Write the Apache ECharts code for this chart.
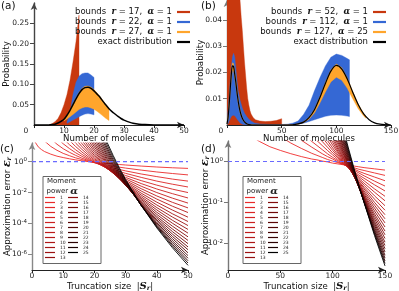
<!DOCTYPE html>
<html><head><meta charset="utf-8">
<script src="https://cdn.jsdelivr.net/npm/echarts@6/dist/echarts.min.js"></script>
<style>html,body{margin:0;padding:0;background:#fff}#c{width:399px;height:291px}</style>
</head><body><div id="c"></div>
<script>
// ---------- panel (a): truncated bounds on the distribution ----------
const aExactX = [0,2,4,5,6,7,8,9,10,11,12,13,14,15,16,17,18,19,20,21,22,23,24,25,26,27,28,29,30,31,32,33,34,35,37,40,45,50];
const aExactP = [0,0,0.0001,0.0003,0.001,0.002,0.005,0.009,0.014,0.024,0.036,0.05,0.064,0.077,0.087,0.092,0.093,0.09,0.084,0.076,0.068,0.058,0.049,0.04,0.033,0.027,0.021,0.016,0.012,0.009,0.0065,0.0045,0.003,0.002,0.001,0.0003,0,0];
const aRedX  = [5,6,7,8,9,10,11,12,13,14,15];
const aRedHi = [0,0.003,0.008,0.016,0.03,0.05,0.075,0.11,0.155,0.205,0.27];
const aBlueX  = [11,12,13,14,15,16,17,18,19,20];
const aBlueLo = [0.004,0.008,0.012,0.016,0.02,0.024,0.027,0.028,0.027,0.025];
const aBlueHi = [0.008,0.03,0.075,0.105,0.12,0.126,0.128,0.128,0.123,0.117];
const aOrangeX  = [10,11,12,13,14,15,16,17,18,19,20,21,22,23,24,25];
const aOrangeLo = [0.01,0.015,0.02,0.026,0.032,0.038,0.042,0.044,0.044,0.042,0.039,0.034,0.028,0.022,0.016,0.011];
const aOrangeHi = [0.014,0.024,0.038,0.053,0.067,0.08,0.09,0.095,0.096,0.093,0.087,0.079,0.07,0.06,0.05,0.042];
const aLegendLabels = ['bounds  {m|r} = 17,  {m|α} = 1','bounds  {m|r} = 22,  {m|α} = 1','bounds  {m|r} = 27,  {m|α} = 1','exact distribution'];

// ---------- panel (b) ----------
const bExactX = [0,1,2,3,4,5,6,7,8,9,10,11,12,13,14,15,16,18,20,25,30,40,50,60,65,70,75,80,85,90,95,100,105,110,115,120,125,130,135,140,145,150];
const bExactP = [0.0003,0.003,0.008,0.014,0.0195,0.0225,0.0222,0.0195,0.0165,0.013,0.0098,0.0072,0.0052,0.0037,0.0026,0.0018,0.0012,0.0005,0.0002,0,0,0,0,0.0001,0.0004,0.0011,0.0028,0.0058,0.0105,0.0158,0.0205,0.0227,0.0213,0.0175,0.0125,0.0078,0.0042,0.002,0.0008,0.0003,0.0001,0];
const bRedX  = [0,5,10,11,12,13,14,15,16,17,18,19,20,21,22,24,26,30,35,40,45,50];
const bRedHi = [0.09,0.09,0.06,0.053,0.047,0.041,0.036,0.03,0.024,0.019,0.014,0.01,0.0075,0.0055,0.0042,0.0028,0.002,0.0015,0.0013,0.0014,0.0017,0.0024];
const bBlueX  = [0,1,2,3,4,5,6,7,8,9,10,12,14,16,18,20,22,25,30,40,50,55,60,65,70,75,80,85,90,95,100,105,110,112];
const bBlueLo = [0,0.0005,0.0015,0.0025,0.0032,0.0036,0.0037,0.0035,0.003,0.0024,0.0018,0.0008,0.0003,0.0001,0,0,0,0,0,0,0,0,0.0001,0.0003,0.0007,0.0013,0.002,0.0027,0.0033,0.0037,0.0038,0.0037,0.0034,0.0032];
const bBlueHi = [0.001,0.006,0.011,0.017,0.022,0.026,0.0273,0.026,0.022,0.0175,0.0135,0.0093,0.0065,0.0045,0.0032,0.0022,0.0015,0.0008,0.0004,0.0002,0.0002,0.0003,0.0007,0.0015,0.004,0.0075,0.013,0.018,0.0225,0.0258,0.027,0.0265,0.0253,0.0248];
const bOrangeX  = [0,1,2,3,4,5,6,7,8,9,10,11,12,13,14,15,16,18,20,25,30,40,50,60,65,70,75,80,85,90,95,100,105,110,115,120,125,127];
const bOrangeLo = [0.0001,0.002,0.0066,0.0125,0.0178,0.0208,0.0206,0.0181,0.0152,0.0119,0.0088,0.0064,0.0046,0.0032,0.0022,0.0015,0.001,0.0004,0.0001,0,0,0,0,0.0001,0.0003,0.0009,0.0022,0.0046,0.0084,0.0126,0.0164,0.0182,0.017,0.014,0.01,0.0062,0.0034,0.0026];
const bOrangeHi = [0.0008,0.0042,0.0092,0.0152,0.0207,0.0237,0.0234,0.0207,0.0177,0.0141,0.0108,0.008,0.0059,0.0043,0.003,0.0021,0.0014,0.0006,0.0002,0,0,0,0,0.0001,0.0004,0.0012,0.0029,0.006,0.0108,0.0162,0.021,0.0232,0.0218,0.0179,0.0128,0.008,0.0044,0.0034];
const bLegendLabels = ['bounds  {m|r} = 52,  {m|α} = 1','bounds  {m|r} = 112,  {m|α} = 1','bounds  {m|r} = 127,  {m|α} = 25','exact distribution'];

// ---------- panels (c), (d): log10 of approximation error per moment power ----------
const alphas = [1,2,3,4,5,6,7,8,9,10,11,12,13,14,15,16,17,18,19,20,21,22,23,24,25];
const cSizes = [1,2,3,4,6,8,10,12,14,16,18,20,22,24,26,28,30,35,40,45,50];
// each list holds the last values of the truncation-size list (curve enters from the top)
const cLogErr = [
 [1.26,0.95,0.78,0.65,0.48,0.35,0.26,0.18,0.11,0.05,0.00,-0.05,-0.09,-0.12,-0.16,-0.19,-0.22,-0.29,-0.35,-0.40,-0.44],
 [1.33,0.98,0.73,0.53,0.38,0.24,0.13,0.02,-0.07,-0.15,-0.23,-0.30,-0.36,-0.42,-0.55,-0.67,-0.77,-0.86],
 [1.50,1.12,0.83,0.60,0.40,0.22,0.07,-0.07,-0.19,-0.31,-0.41,-0.51,-0.60,-0.80,-0.97,-1.13,-1.26],
 [1.54,1.15,0.84,0.57,0.34,0.13,-0.05,-0.22,-0.37,-0.51,-0.64,-0.76,-1.02,-1.26,-1.46,-1.64],
 [1.49,1.09,0.76,0.47,0.21,-0.02,-0.22,-0.41,-0.58,-0.75,-0.90,-1.23,-1.52,-1.78,-2.00],
 [1.37,0.97,0.62,0.31,0.04,-0.21,-0.44,-0.64,-0.84,-1.02,-1.42,-1.77,-2.07,-2.35],
 [1.66,1.19,0.79,0.43,0.11,-0.18,-0.44,-0.69,-0.91,-1.12,-1.59,-2.00,-2.36,-2.68],
 [1.43,0.97,0.56,0.19,-0.14,-0.44,-0.72,-0.98,-1.22,-1.75,-2.22,-2.63,-2.99],
 [1.68,1.16,0.70,0.29,-0.09,-0.43,-0.74,-1.03,-1.30,-1.90,-2.42,-2.88,-3.29],
 [1.36,0.85,0.39,-0.02,-0.40,-0.75,-1.07,-1.37,-2.04,-2.62,-3.13,-3.59],
 [1.57,1.01,0.51,0.05,-0.36,-0.74,-1.10,-1.43,-2.16,-2.80,-3.37,-3.87],
 [1.81,1.19,0.65,0.15,-0.30,-0.72,-1.11,-1.47,-2.27,-2.97,-3.58,-4.13],
 [1.39,0.79,0.25,-0.24,-0.69,-1.11,-1.50,-2.37,-3.12,-3.79,-4.38],
 [1.59,0.95,0.37,-0.16,-0.65,-1.10,-1.52,-2.45,-3.27,-3.98,-4.62],
 [1.80,1.11,0.49,-0.08,-0.60,-1.08,-1.53,-2.54,-3.41,-4.17,-4.86],
 [1.28,0.62,0.01,-0.54,-1.06,-1.54,-2.61,-3.54,-4.35,-5.09],
 [1.47,0.77,0.12,-0.47,-1.02,-1.53,-2.66,-3.65,-4.52,-5.30],
 [1.66,0.91,0.23,-0.39,-0.97,-1.51,-2.72,-3.76,-4.68,-5.51],
 [1.87,1.08,0.36,-0.30,-0.91,-1.48,-2.75,-3.85,-4.83,-5.69],
 [1.24,0.49,-0.21,-0.85,-1.45,-2.79,-3.95,-4.97,-5.89],
 [1.42,0.63,-0.11,-0.78,-1.41,-2.82,-4.03,-5.11,-6.07],
 [1.61,0.78,0.01,-0.70,-1.36,-2.83,-4.11,-5.23,-6.24],
 [1.80,0.93,0.13,-0.61,-1.30,-2.84,-4.17,-5.35,-6.40],
 [2.01,1.10,0.27,-0.51,-1.23,-2.83,-4.22,-5.45,-6.55],
 [1.27,0.40,-0.41,-1.16,-2.83,-4.28,-5.56,-6.70]
];
const dSizes = [25,30,40,50,60,70,80,85,90,95,100,105,110,115,120,125,130,140,150];
const dLogErr = [
 [0.57,0.49,0.36,0.27,0.19,0.12,0.06,0.04,0.01,-0.01,-0.04,-0.06,-0.08,-0.10,-0.11,-0.13,-0.15,-0.18,-0.21],
 [0.61,0.45,0.32,0.20,0.15,0.10,0.05,0.01,-0.03,-0.07,-0.11,-0.15,-0.19,-0.22,-0.28,-0.34],
 [0.52,0.35,0.27,0.19,0.12,0.06,-0.01,-0.07,-0.13,-0.18,-0.24,-0.29,-0.38,-0.47],
 [0.72,0.49,0.39,0.29,0.19,0.10,0.02,-0.06,-0.14,-0.21,-0.28,-0.35,-0.48,-0.60],
 [0.51,0.39,0.27,0.16,0.05,-0.05,-0.15,-0.24,-0.33,-0.41,-0.57,-0.72],
 [0.64,0.49,0.35,0.21,0.09,-0.04,-0.15,-0.26,-0.37,-0.47,-0.67,-0.85],
 [0.59,0.43,0.27,0.12,-0.02,-0.15,-0.28,-0.41,-0.53,-0.75,-0.96],
 [0.51,0.33,0.16,0.00,-0.15,-0.30,-0.44,-0.58,-0.84,-1.08],
 [0.60,0.40,0.21,0.02,-0.15,-0.32,-0.48,-0.63,-0.92,-1.19],
 [0.69,0.47,0.25,0.05,-0.14,-0.33,-0.50,-0.67,-1.00,-1.30],
 [0.54,0.30,0.08,-0.13,-0.34,-0.53,-0.72,-1.07,-1.40],
 [0.61,0.35,0.11,-0.12,-0.34,-0.55,-0.76,-1.14,-1.50],
 [0.69,0.41,0.15,-0.10,-0.34,-0.57,-0.80,-1.21,-1.60],
 [0.77,0.47,0.19,-0.08,-0.34,-0.59,-0.83,-1.28,-1.70],
 [0.53,0.23,-0.06,-0.34,-0.61,-0.86,-1.34,-1.79],
 [0.60,0.27,-0.04,-0.33,-0.62,-0.89,-1.40,-1.88],
 [0.67,0.32,-0.01,-0.32,-0.62,-0.91,-1.46,-1.97],
 [0.74,0.37,0.02,-0.31,-0.63,-0.93,-1.51,-2.05],
 [0.81,0.43,0.06,-0.29,-0.63,-0.95,-1.56,-2.13],
 [0.89,0.48,0.10,-0.27,-0.63,-0.97,-1.61,-2.21],
 [0.54,0.14,-0.25,-0.62,-0.98,-1.66,-2.29],
 [0.61,0.18,-0.23,-0.62,-0.99,-1.70,-2.36],
 [0.67,0.23,-0.20,-0.61,-1.00,-1.74,-2.43],
 [0.74,0.28,-0.17,-0.59,-1.00,-1.77,-2.49],
 [0.81,0.33,-0.13,-0.58,-1.00,-1.81,-2.55]
];
const cTicks = [0,-2,-4,-6];
const dTicks = [0,-1,-2];
const refLevel = 0; // 10^0 reference level (dashed)

// ---------- build ----------
const F = 'DejaVu Sans';
const RED = '#c8380e', BLUE = '#3568d4', ORANGE = '#ffa52c', DASH = '#6a6aff';
const MATH = {fontFamily:'DejaVu Serif', fontStyle:'italic', fontWeight:'bold'};
const RICH = {
  s: Object.assign({fontSize:10, lineHeight:11}, MATH),
  r: Object.assign({fontSize:6.5, lineHeight:7, verticalAlign:'bottom'}, MATH),
  e: Object.assign({fontSize:11, lineHeight:11}, MATH)
};
function xy(xs, ys){ return xs.map((x,i)=>[x, ys[i]]); }
function alignEnd(sizes, vals){ const off = sizes.length - vals.length; return vals.map((v,j)=>[sizes[off+j], v]); }
function curveColor(k){ const t=(k-1)/24; const r=Math.round(240*Math.pow(1-t,0.7)); const g=Math.round(45*Math.pow(1-t,1.5)); return 'rgb('+r+','+g+','+g+')'; }

function band(name, g, xs, lo, hi, color){
  return {type:'custom', name, xAxisIndex:g, yAxisIndex:g, clip:true, silent:true,
    itemStyle:{color}, data:[[xs[0],0]],
    renderItem(params, api){
      const pts=[];
      for(let i=0;i<xs.length;i++) pts.push(api.coord([xs[i], hi[i]]));
      for(let i=xs.length-1;i>=0;i--) pts.push(api.coord([xs[i], lo ? lo[i] : 0]));
      return {type:'polygon', shape:{points:pts}, style:{fill:color, stroke:color, lineWidth:0.4}};
    }};
}
function exactLine(name, g, xs, ys, w){
  return {type:'line', name, xAxisIndex:g, yAxisIndex:g, data:xy(xs,ys), showSymbol:false, symbol:'none',
    smooth:0.3, lineStyle:{color:'#000', width:w}, itemStyle:{color:'#000'}, silent:true};
}
// dashed reference line at 10^0 spanning the x-axis range
function refSeries(g, xMax){
  return {type:'line', name:'ref'+g, xAxisIndex:g, yAxisIndex:g, silent:true, z:10,
    data:[[0, refLevel],[xMax, refLevel]], showSymbol:false, symbol:'none', color:DASH,
    itemStyle:{color:DASH}, lineStyle:{color:DASH, width:1.2, type:[4,3]}};
}
function curves(prefix, g, sizes, all){
  return all.map((vals,i)=>{
    const col = curveColor(alphas[i]);
    return {type:'line', name:prefix+alphas[i], xAxisIndex:g, yAxisIndex:g, data:alignEnd(sizes, vals),
      showSymbol:false, symbol:'none', clip:true, silent:true,
      lineStyle:{color:col, width:0.9}, itemStyle:{color:col}};
  });
}
function xAx(g, max, interval, name, nameGap, zeroShift){
  return {gridIndex:g, type:'value', min:0, max, interval,
    axisLine:{show:true, onZero:false, lineStyle:{color:'#222', width:1.2}, symbol:['none','arrow'], symbolSize:[5,7]},
    axisTick:{show:true, length:3, lineStyle:{color:'#222'}},
    axisLabel:{fontSize:7.5, color:'#222', fontFamily:F, margin:2.5,
      formatter: v => (v===0 && zeroShift) ? '{z|0}' : String(v),
      rich:{z:{padding:[0,zeroShift||0,0,0], fontSize:7.5, fontFamily:F, color:'#222'}}},
    splitLine:{show:false},
    name, nameLocation:'middle', nameGap, nameMoveOverlap:false,
    nameTextStyle:{fontSize:8.6, fontFamily:F, color:'#111', lineHeight:11, rich:RICH}};
}
function yAx(g, min, max, vals, fmt, name, nameGap, color){
  return {gridIndex:g, type:'value', min, max,
    axisLine:{show:true, onZero:false, lineStyle:{color, width:1.4}, symbol:['none','arrow'], symbolSize:[5,7]},
    axisTick:{show:true, length:4, customValues:vals, lineStyle:{color}},
    axisLabel:{customValues:vals, formatter:fmt, fontSize:7.5, color:'#222', fontFamily:F, margin:5, lineHeight:10,
      rich:{sup:{fontSize:5.5, lineHeight:6, verticalAlign:'top', fontFamily:F, color:'#222'}}},
    splitLine:{show:false},
    name, nameLocation:'middle', nameGap, nameMoveOverlap:false,
    nameTextStyle:{fontSize:8.6, fontFamily:F, color:'#111', lineHeight:11, rich:RICH}};
}
const powFmt = v => '10{sup|' + v + '}';

function topLegend(names, labels, right){
  const map = {}; names.forEach((n,i)=>map[n]=labels[i]);
  return {data:names, orient:'vertical', align:'right', right, top:7, padding:0, itemWidth:13, itemHeight:2.2, itemGap:0,
    icon:'rect', selectedMode:false, formatter:n=>map[n],
    textStyle:{fontFamily:F, fontSize:8.5, lineHeight:10, color:'#111',
      rich:{m:Object.assign({fontSize:8.5, lineHeight:10, color:'#111'}, MATH)}}};
}
function alphaLegend(prefix, left){
  return {data:alphas.map(k=>prefix+k), orient:'vertical', left, top:195, height:66, padding:0,
    itemWidth:10, itemHeight:1.2, itemGap:0, icon:'rect', selectedMode:false, z:10,
    formatter:n=>n.slice(1), textStyle:{fontFamily:F, fontSize:4.5, lineHeight:5, width:8, color:'#222'}};
}
function boxTitle(x){
  return [
    {type:'rect', z:6, shape:{x:x, y:176.5, width:58, height:87}, style:{fill:'#fff', stroke:'#666', lineWidth:1}},
    {type:'text', z:7, x:x+4, y:178, style:{text:'Moment', fontSize:7, fontFamily:F, fill:'#222'}},
    {type:'text', z:7, x:x+3.5, y:186, style:{text:'power {a|α}', fontSize:7, fontFamily:F, fill:'#222',
      rich:{a:Object.assign({fontSize:10, fill:'#222'}, MATH)}}}
  ];
}

const option = {
  animation:false,
  backgroundColor:'#fff',
  grid:[
    {left:34, right:215, top:3, bottom:166, containLabel:false, outerBoundsMode:'none'},
    {left:227, right:8, top:0, bottom:166, containLabel:false, outerBoundsMode:'none'},
    {left:32, right:211, top:143, bottom:21, containLabel:false, outerBoundsMode:'none'},
    {left:228, right:14, top:141, bottom:21, containLabel:false, outerBoundsMode:'none'}
  ],
  xAxis:[
    xAx(0, 50, 10, 'Number of molecules', 8, 16),
    xAx(1, 150, 50, 'Number of molecules', 8, 12),
    xAx(2, 50, 10, 'Truncation size  |{s|S}{r|r}|', 11, 0),
    xAx(3, 150, 50, 'Truncation size  |{s|S}{r|r}|', 11, 0)
  ],
  yAxis:[
    yAx(0, 0, 0.3, [0.05,0.1,0.15,0.2,0.25], v=>v.toFixed(2), 'Probability', 22, '#444'),
    yAx(1, 0, 0.0476, [0.01,0.02,0.03,0.04], v=>v.toFixed(2), 'Probability', 21, '#777'),
    yAx(2, -7, 1.2, cTicks, powFmt, 'Approximation error {e|ε}{r|r}', 19, '#888'),
    yAx(3, -2.65, 0.5, dTicks, powFmt, 'Approximation error {e|ε}{r|r}', 17, '#777')
  ],
  legend:[
    topLegend(['aRed','aBlue','aOrange','aExact'], aLegendLabels, 209),
    topLegend(['bRed','bBlue','bOrange','bExact'], bLegendLabels, 13),
    alphaLegend('c', 45),
    alphaLegend('d', 245)
  ],
  graphic:[
    {type:'text', x:1, y:1, style:{text:'(a)', fontSize:10.5, fontFamily:F, fill:'#111'}},
    {type:'text', x:201, y:1, style:{text:'(b)', fontSize:10.5, fontFamily:F, fill:'#111'}},
    {type:'text', x:0, y:144, style:{text:'(c)', fontSize:10.5, fontFamily:F, fill:'#111'}},
    {type:'text', x:201, y:144, style:{text:'(d)', fontSize:10.5, fontFamily:F, fill:'#111'}}
  ].concat(boxTitle(43), boxTitle(243)),
  series:[
    band('aRed', 0, aRedX, null, aRedHi, RED),
    band('aBlue', 0, aBlueX, aBlueLo, aBlueHi, BLUE),
    band('aOrange', 0, aOrangeX, aOrangeLo, aOrangeHi, ORANGE),
    exactLine('aExact', 0, aExactX, aExactP, 1.5),
    band('bRed', 1, bRedX, null, bRedHi, RED),
    band('bBlue', 1, bBlueX, bBlueLo, bBlueHi, BLUE),
    band('bOrange', 1, bOrangeX, bOrangeLo, bOrangeHi, ORANGE),
    exactLine('bExact', 1, bExactX, bExactP, 1.2)
  ].concat(curves('c', 2, cSizes, cLogErr), curves('d', 3, dSizes, dLogErr), [refSeries(2, 50), refSeries(3, 150)])
};
const chart = echarts.init(document.getElementById('c'), null, {renderer:'canvas'});
chart.setOption(option);
</script></body></html>
